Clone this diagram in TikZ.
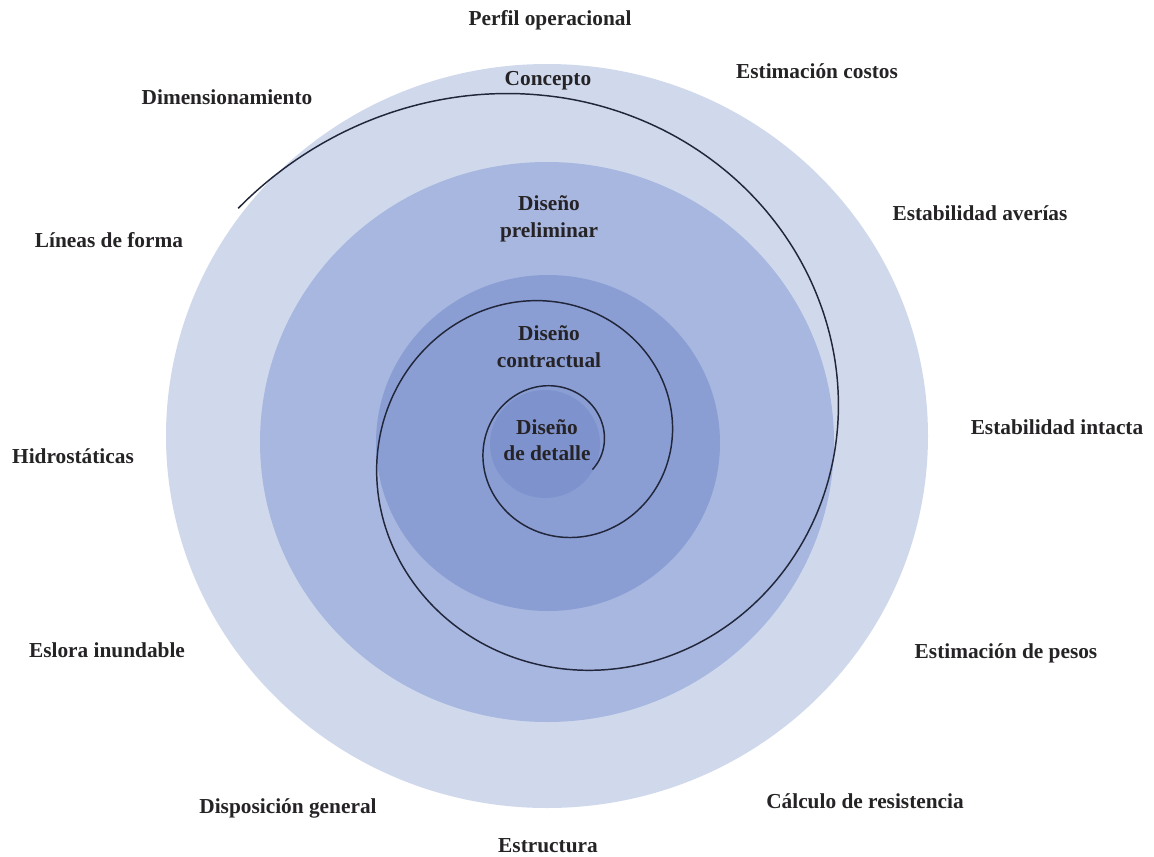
\documentclass[tikz,border=0pt]{standalone}
\usepackage{fontspec}
\setmainfont{Liberation Serif}

\tikzset{every picture/.style={line width=0.75pt}}
\tikzset{etapa/.style={font=\fontsize{16}{20}\selectfont\bfseries, text={rgb, 255:red, 38; green, 35; blue, 38 }, align=center, inner sep=0pt}}

\begin{document}
\begin{tikzpicture}[x=0.75pt,y=0.75pt,yscale=-1,xscale=1]
\useasboundingbox (0,0) rectangle (1154,857);

%Shape: Ellipse [id:outer]
\draw  [draw=none, fill={rgb, 255:red, 208; green, 217; blue, 236 }  ,fill opacity=1 ] (547,436) ellipse (381 and 372);
%Shape: Ellipse [id:second]
\draw  [draw=none, fill={rgb, 255:red, 168; green, 183; blue, 224 }  ,fill opacity=1 ] (547,442) ellipse (287 and 280);
%Shape: Ellipse [id:third]
\draw  [draw=none, fill={rgb, 255:red, 138; green, 158; blue, 212 }  ,fill opacity=1 ] (548,443) ellipse (172 and 168);
%Shape: Ellipse [id:inner]
\draw  [draw=none, fill={rgb, 255:red, 126; green, 146; blue, 205 }  ,fill opacity=1 ] (545,444) ellipse (55 and 54);

%Curve Lines [id:spiral]
\draw [color={rgb, 255:red, 33; green, 38; blue, 58 }  ,draw opacity=1 ][line width=1.1]  plot [smooth, samples=400, domain=143.4:-754.8] ({557+348*exp(0.002478*(\x-90))*cos(\x)}, {445-348*exp(0.002478*(\x-90))*sin(\x)});

% Text Node
\node [etapa] (perfil) at (550,20) {Perfil operacional};
% Text Node
\node [etapa] (concepto) at (548,81) {Concepto};
% Text Node
\node [etapa] (costos) at (817,71) {Estimación costos};
% Text Node
\node [etapa] (dimension) at (227,97) {Dimensionamiento};
% Text Node
\node [etapa] (averias) at (980,213) {Estabilidad averías};
% Text Node
\node [etapa] (lineas) at (109,240) {Líneas de forma};
% Text Node
\node [etapa] (preliminar) at (549,219) {Diseño\\preliminar};
% Text Node
\node [etapa] (contractual) at (549,347) {Diseño\\contractual};
% Text Node
\node [etapa] (intacta) at (1057,427) {Estabilidad intacta};
% Text Node
\node [etapa] (hidro) at (73,456) {Hidrostáticas};
% Text Node
\node [etapa] (detalle) at (547,440) {Diseño\\de detalle};
% Text Node
\node [etapa] (eslora) at (107,650) {Eslora inundable};
% Text Node
\node [etapa] (pesos) at (1006,653) {Estimación de pesos};
% Text Node
\node [etapa] (disposicion) at (288,808) {Disposición general};
% Text Node
\node [etapa] (resistencia) at (865,801) {Cálculo de resistencia};
% Text Node
\node [etapa] (estructura) at (548,846) {Estructura};

\end{tikzpicture}
\end{document}
